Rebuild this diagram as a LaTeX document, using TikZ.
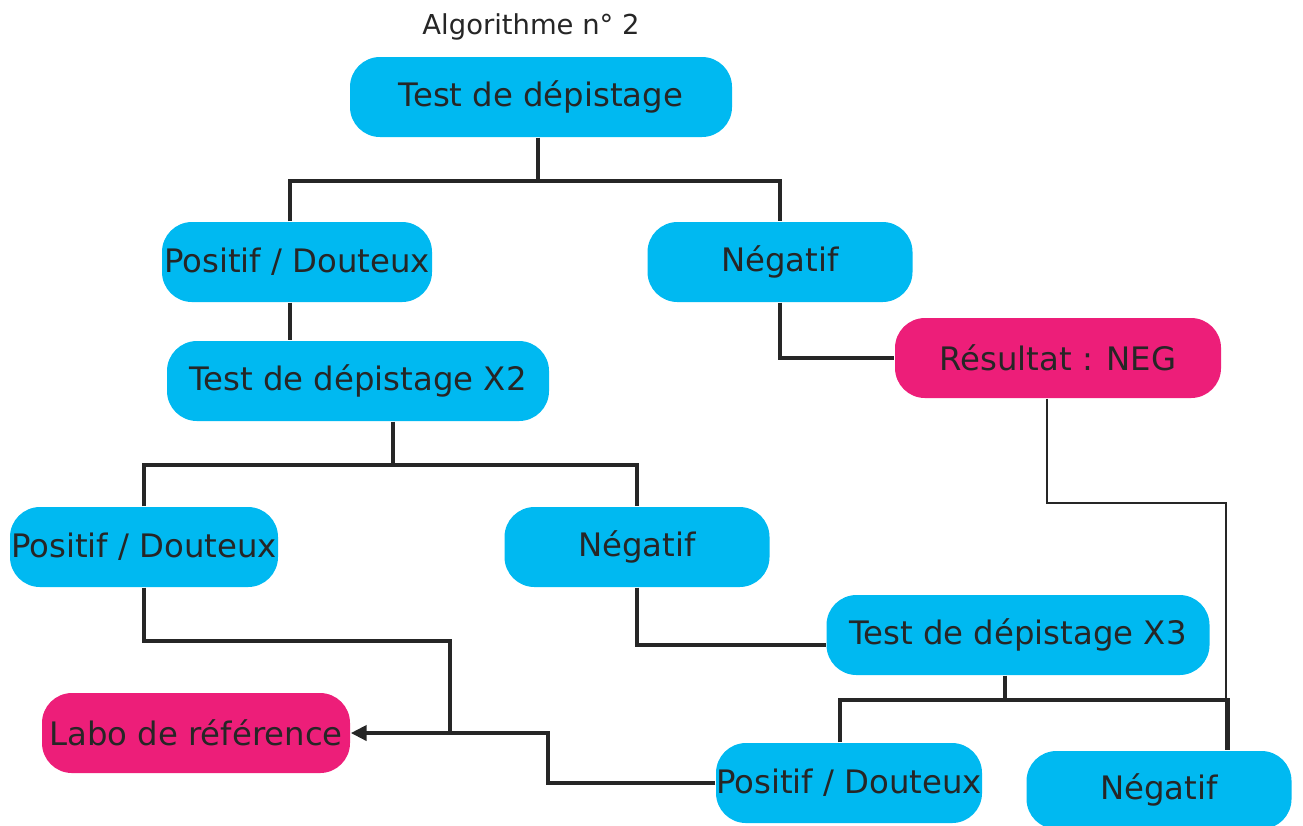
\documentclass[tikz,border=0pt]{standalone}
\usepackage{fontspec}
\setmainfont{DejaVu Sans}
\usetikzlibrary{arrows.meta}
\definecolor{boxblue}{RGB}{0,185,241}
\definecolor{boxpink}{RGB}{237,30,121}
\begin{document}
\begin{tikzpicture}[
  line join=miter,
  >=Triangle,
  every node/.style={font=\fontsize{9.2}{11}\selectfont, text=black!85},
  mybox/.style={rounded corners=0.3cm, minimum height=0.80cm, inner sep=0pt},
  bluebox/.style={mybox, fill=boxblue},
  pinkbox/.style={mybox, fill=boxpink},
  mylink/.style={line width=1.4pt, black!85},
  mythin/.style={line width=0.6pt, black!85},
  myarrow/.style={mylink, -{Triangle[length=1.6mm,width=1.5mm]}}
]
\useasboundingbox (0,0) rectangle (13.03,-8.25);

\node [font=\fontsize{7.8}{9}\selectfont] (title) at (5.31,-0.27) {Algorithme n° 2};

\node [bluebox, minimum width=3.82cm] (test) at (5.41,-0.97) {Test de dépistage};
\node [bluebox, minimum width=2.70cm] (pos1) at (2.97,-2.62) {Positif / Douteux};
\node [bluebox, minimum width=2.65cm] (neg1) at (7.80,-2.62) {Négatif};
\node [pinkbox, minimum width=3.26cm] (res)  at (10.58,-3.58) {Résultat : NEG};
\node [bluebox, minimum width=3.82cm] (x2)   at (3.58,-3.81) {Test de dépistage X2};
\node [bluebox, minimum width=2.68cm] (pos2) at (1.44,-5.47) {Positif / Douteux};
\node [bluebox, minimum width=2.65cm] (neg2) at (6.37,-5.47) {Négatif};
\node [bluebox, minimum width=3.83cm] (x3)   at (10.18,-6.35) {Test de dépistage X3};
\node [pinkbox, minimum width=3.08cm] (labo) at (1.96,-7.33) {Labo de référence};
\node [bluebox, minimum width=2.66cm] (pos3) at (8.49,-7.83) {Positif / Douteux};
\node [bluebox, minimum width=2.65cm, minimum height=0.78cm] (neg3) at (11.59,-7.90) {Négatif};

% forks
\coordinate (f1) at (5.38,-1.81);
\coordinate (f2) at (3.93,-4.65);
\coordinate (f3) at (10.05,-7.00);
\coordinate (j1) at (4.50,-6.41);
\coordinate (j2) at (4.50,-7.33);
\coordinate (j3) at (5.48,-7.33);
\coordinate (r1) at (12.26,-5.03);

\draw [mylink] (test.south -| f1) -- (f1);
\draw [mylink] ([xshift=-0.7mm]pos1.north) |- (f1) -| (neg1.north);
\draw [mylink] ([xshift=-0.7mm]pos1.south) -- ([xshift=-0.7mm]pos1.south |- x2.north);
\draw [mylink] (neg1.south) |- (res.west);

\draw [mylink] (x2.south -| f2) -- (f2);
\draw [mylink] (pos2.north) |- (f2) -| (neg2.north);
\draw [mylink] (pos2.south) |- (j1) -- (j2);
\draw [mylink] (neg2.south) |- ([yshift=-1mm]x3.west);

\draw [mylink] (x3.south -| f3) -- (f3);
\draw [mylink] ([xshift=-0.9mm]pos3.north) |- (f3) -| ([xshift=6.9mm]neg3.north);
\draw [mythin] ([xshift=-1.1mm]res.south) |- (r1) -- (r1 |- neg3.north);

\draw [myarrow] (pos3.west) -| (j3) -- (labo.east);

\end{tikzpicture}
\end{document}
